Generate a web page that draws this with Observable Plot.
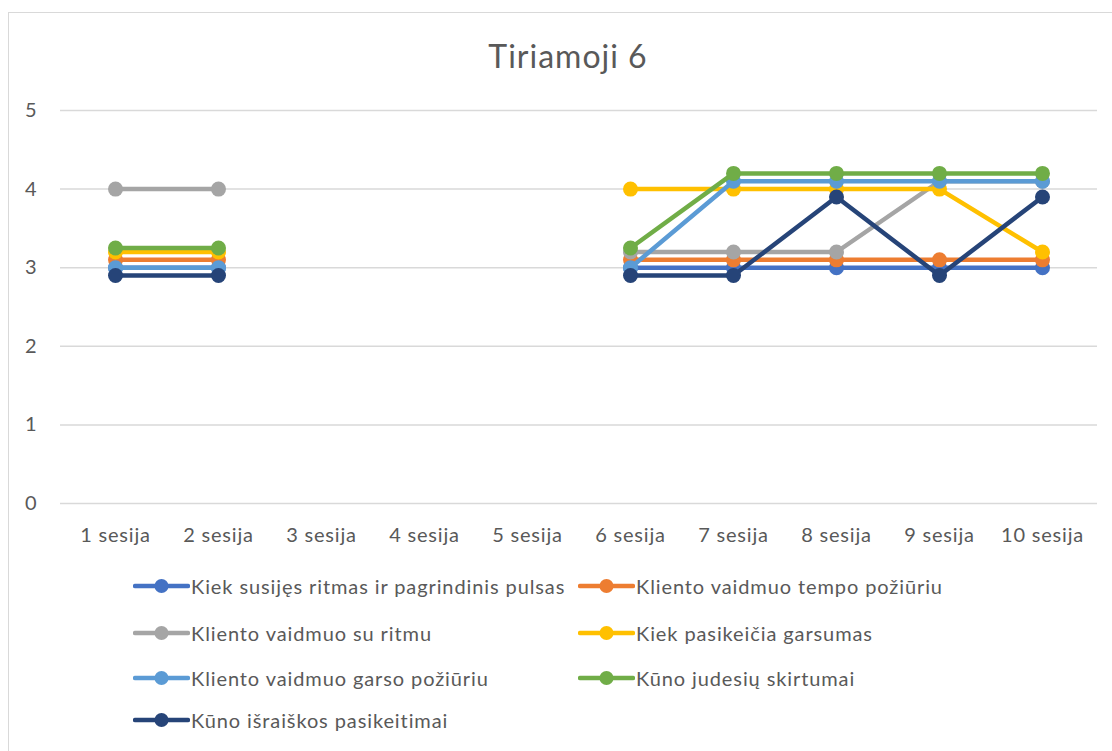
<!DOCTYPE html>
<html>
<head>
<meta charset="utf-8">
<script src="https://cdn.jsdelivr.net/npm/d3@7"></script>
<script src="https://cdn.jsdelivr.net/npm/@observablehq/plot@0.6"></script>
<style>
  html, body { margin: 0; padding: 0; background: #fff; width: 1112px; height: 751px; overflow: hidden; }
  body { font-family: Lato, "Open Sans", sans-serif; color: #595959; position: relative; }
  #frame { position: absolute; left: 8px; top: 12px; width: 1200px; height: 800px; border-left: 1.5px solid #d9d9d9; border-top: 1.5px solid #d9d9d9; }
  #title { position: absolute; left: 0; width: 1136px; top: 36px; text-align: center; font-size: 32px; letter-spacing: 1px; color: #595959; line-height: 40px; }
  #chart { position: absolute; left: 0; top: 80px; }
  #legend { position: absolute; left: 0; top: 0; }
  .item { position: absolute; display: flex; align-items: center; font-size: 20px; letter-spacing: 0.9px; color: #595959; white-space: nowrap; }
  .item svg { display: block; margin-right: 1px; }
</style>
</head>
<body>
<div id="frame"></div>
<div id="title">Tiriamoji 6</div>
<div id="chart"></div>
<div id="legend"></div>
<script>
const sessions = ["1 sesija","2 sesija","3 sesija","4 sesija","5 sesija","6 sesija","7 sesija","8 sesija","9 sesija","10 sesija"];
const seriesNames = [
  "Kiek susijęs ritmas ir pagrindinis pulsas",
  "Kliento vaidmuo tempo požiūriu",
  "Kliento vaidmuo su ritmu",
  "Kiek pasikeičia garsumas",
  "Kliento vaidmuo garso požiūriu",
  "Kūno judesių skirtumai",
  "Kūno išraiškos pasikeitimai"
];
const seriesColors = ["#4472C4","#ED7D31","#A5A5A5","#FFC000","#5B9BD5","#70AD47","#264478"];
const ritmasPulsas   = [3,    3,    null, null, null, 3,    3,    3,    3,    3];
const tempoPoziuriu  = [3.1,  3.1,  null, null, null, 3.1,  3.1,  3.1,  3.1,  3.1];
const suRitmu        = [4,    4,    null, null, null, 3.2,  3.2,  3.2,  4.1,  4.1];
const garsumas       = [3.2,  3.2,  null, null, null, 4,    4,    4,    4,    3.2];
const garsoPoziuriu  = [3,    3,    null, null, null, 3,    4.1,  4.1,  4.1,  4.1];
const judesiuSkirt   = [3.25, 3.25, null, null, null, 3.25, 4.2,  4.2,  4.2,  4.2];
const israiskosPasik = [2.9,  2.9,  null, null, null, 2.9,  2.9,  3.9,  2.9,  3.9];
const yTicks = [0, 1, 2, 3, 4, 5];

const seriesValues = [ritmasPulsas, tempoPoziuriu, suRitmu, garsumas, garsoPoziuriu, judesiuSkirt, israiskosPasik];

const marks = [
  Plot.ruleY(yTicks, {stroke: "#d9d9d9", strokeWidth: 1.5}),
  Plot.axisX({tickSize: 0, tickPadding: 24, fontSize: 20, fill: "#595959", label: null}),
  Plot.axisY({ticks: yTicks, tickSize: 0, tickPadding: 23, fontSize: 20, fill: "#595959", label: null, tickFormat: d => String(d)})
];
seriesValues.forEach((vals, i) => {
  const rows = sessions.map((s, j) => ({session: s, value: vals[j], series: seriesNames[i]}));
  marks.push(Plot.line(rows, {x: "session", y: "value", stroke: seriesColors[i], strokeWidth: 4.5, strokeLinecap: "round"}));
  marks.push(Plot.dot(rows.filter(d => d.value != null), {x: "session", y: "value", fill: seriesColors[i], r: 7.5}));
});

const chart = Plot.plot({
  width: 1112,
  height: 460,
  marginLeft: 60,
  marginRight: 15,
  marginTop: 30,
  marginBottom: 37,
  style: {fontFamily: "Lato, 'Open Sans', sans-serif", fontSize: "20px", letterSpacing: "0.8px", color: "#595959", background: "transparent", overflow: "visible"},
  x: {type: "point", domain: sessions, padding: 0.5},
  y: {domain: [0, 5]},
  marks
});
document.getElementById("chart").appendChild(chart);

// legend
const legend = document.getElementById("legend");
const positions = [[133,586],[578,586],[133,633],[578,633],[133,678],[578,678],[133,720]];
seriesNames.forEach((name, i) => {
  const [x, y] = positions[i];
  const div = document.createElement("div");
  div.className = "item";
  div.style.left = x + "px";
  div.style.top = (y - 13) + "px";
  div.style.height = "26px";
  const c = seriesColors[i];
  div.innerHTML = `<svg width="57" height="16"><line x1="2" y1="8" x2="55" y2="8" stroke="${c}" stroke-width="4.5" stroke-linecap="round"/><circle cx="28.5" cy="8" r="7" fill="${c}"/></svg><span>${name}</span>`;
  legend.appendChild(div);
});
</script>
</body>
</html>
